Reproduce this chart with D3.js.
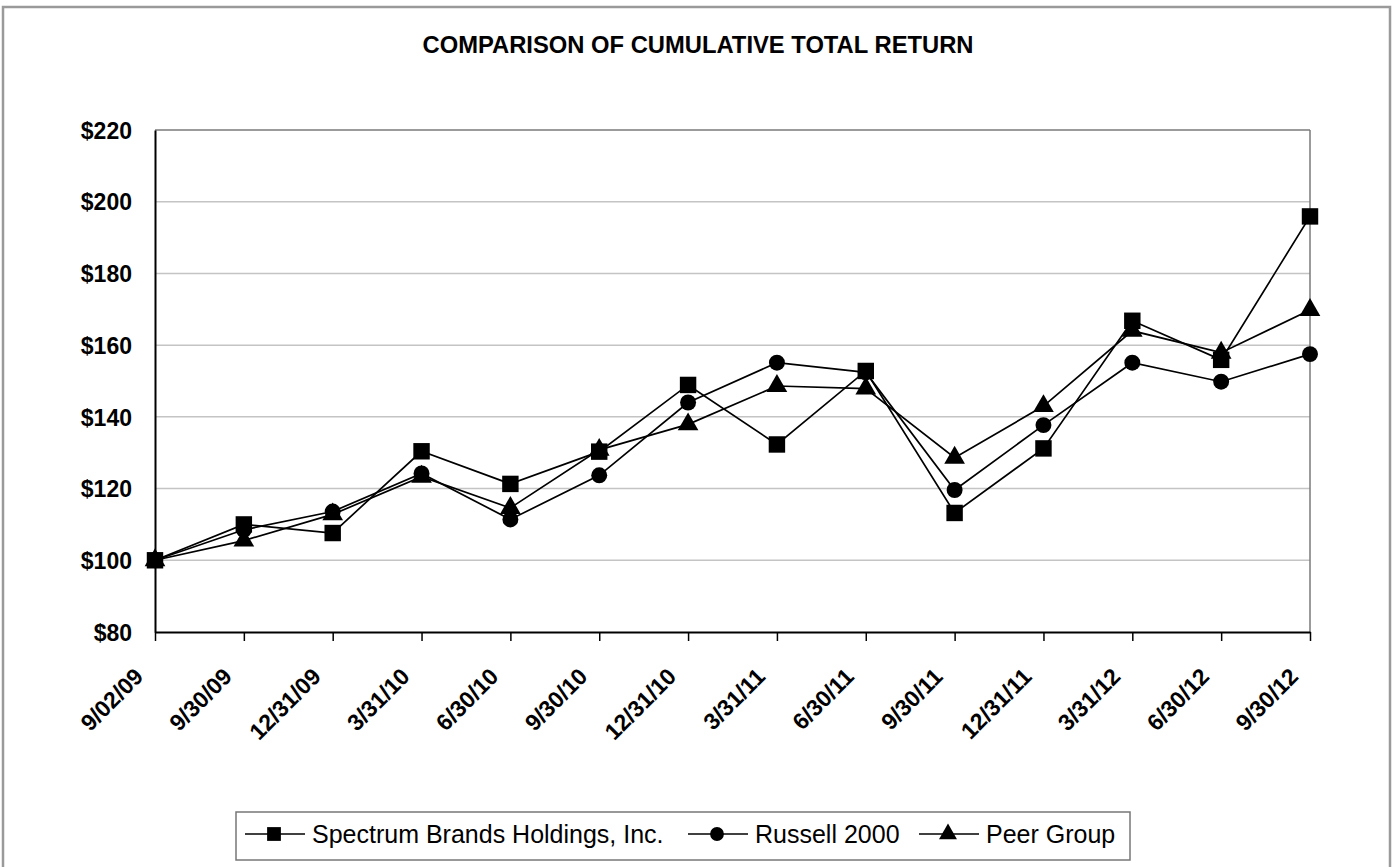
<!DOCTYPE html>
<html>
<head>
<meta charset="utf-8">
<script src="https://cdn.jsdelivr.net/npm/d3@7"></script>
<style>
  html, body { margin: 0; padding: 0; background: #fff; }
  svg { display: block; }
  text { font-family: Arial, "Liberation Sans", Helvetica, sans-serif; }
</style>
</head>
<body>
<svg id="chart" width="1394" height="867"></svg>
<script>
const title = "COMPARISON OF CUMULATIVE TOTAL RETURN";
const dates = ["9/02/09","9/30/09","12/31/09","3/31/10","6/30/10","9/30/10","12/31/10","3/31/11","6/30/11","9/30/11","12/31/11","3/31/12","6/30/12","9/30/12"];
const spectrum = [100, 110, 107.6, 130.4, 121.3, 130.3, 148.9, 132.3, 152.8, 113.2, 131.2, 166.8, 155.9, 195.9];
const russell  = [100, 108.5, 113.6, 124.2, 111.4, 123.7, 144.0, 155.1, 152.4, 119.6, 137.7, 155.1, 149.8, 157.5];
const peer     = [100, 105.5, 112.8, 123.3, 114.6, 130.8, 137.9, 148.6, 147.9, 128.6, 143.0, 164.0, 157.9, 169.8];
const yTicks = [80, 100, 120, 140, 160, 180, 200, 220];
const seriesNames = ["Spectrum Brands Holdings, Inc.", "Russell 2000", "Peer Group"];
const seriesValues = [spectrum, russell, peer];
const seriesSymbols = [d3.symbolSquare, d3.symbolCircle, d3.symbolTriangle];

const svg = d3.select("#chart");
const W = 1394, H = 867;

// outer frame
svg.append("rect").attr("x", 3).attr("y", 7).attr("width", W - 7).attr("height", H + 10)
  .attr("fill", "#fff").attr("stroke", "#9a9a9a").attr("stroke-width", 2.5);

svg.append("text").attr("x", 698).attr("y", 53).attr("text-anchor", "middle")
  .attr("font-size", 23).attr("font-weight", "bold").attr("textLength", 551)
  .attr("lengthAdjust", "spacingAndGlyphs").text(title);

const pLeft = 155, pRight = 1310, pTop = 130, pBottom = 632;
const x = d3.scalePoint().domain(dates).range([pLeft, pRight]).padding(0);
const y = d3.scaleLinear().domain([80, 220]).range([pBottom, pTop]);

// gridlines
svg.append("g").selectAll("line").data(yTicks.filter(t => t > 80 && t < 220)).join("line")
  .attr("x1", pLeft).attr("x2", pRight).attr("y1", d => y(d)).attr("y2", d => y(d))
  .attr("stroke", "#c4c4c4").attr("stroke-width", 1.5);

// plot frame top/right
svg.append("line").attr("x1", pLeft).attr("x2", pRight).attr("y1", pTop).attr("y2", pTop)
  .attr("stroke", "#7a7a7a").attr("stroke-width", 1.5);
svg.append("line").attr("x1", pRight).attr("x2", pRight).attr("y1", pTop).attr("y2", pBottom)
  .attr("stroke", "#7a7a7a").attr("stroke-width", 1.5);

// y axis
const yAxis = svg.append("g").attr("transform", `translate(${pLeft},0)`)
  .call(d3.axisLeft(y).tickValues(yTicks).tickSize(0).tickPadding(23).tickFormat(d => "$" + d));
yAxis.select(".domain").attr("stroke", "#000").attr("stroke-width", 2);
yAxis.selectAll("text").attr("font-size", 23).attr("font-weight", "bold").attr("fill", "#000")
  .attr("font-family", "Arial, 'Liberation Sans', sans-serif").attr("dy", "0.36em");

// x axis
const xAxis = svg.append("g").attr("transform", `translate(0,${pBottom})`)
  .call(d3.axisBottom(x).tickSize(9).tickSizeOuter(0));
xAxis.select(".domain").attr("stroke", "#000").attr("stroke-width", 2);
xAxis.selectAll(".tick line").attr("stroke", "#000").attr("stroke-width", 1.5);
xAxis.selectAll("text").attr("font-size", 23).attr("font-weight", "bold").attr("fill", "#000")
  .attr("font-family", "Arial, 'Liberation Sans', sans-serif")
  .attr("text-anchor", "end").attr("dy", 0).attr("y", 0)
  .attr("transform", "translate(-11,46) rotate(-45)");

// series lines and markers
const line = d3.line().x((d, i) => x(dates[i])).y(d => y(d));
const sizes = [270, 200, 185];
seriesValues.forEach((vals, si) => {
  svg.append("path").datum(vals).attr("d", line).attr("fill", "none")
    .attr("stroke", "#000").attr("stroke-width", 1.7);
});
seriesValues.forEach((vals, si) => {
  svg.append("g").selectAll("path").data(vals).join("path")
    .attr("transform", (d, i) => `translate(${x(dates[i])},${y(d)})`)
    .attr("d", d3.symbol().type(seriesSymbols[si]).size(sizes[si]))
    .attr("fill", "#000");
});

// legend
const lg = svg.append("g");
lg.append("rect").attr("x", 236).attr("y", 812).attr("width", 894).attr("height", 48)
  .attr("fill", "#fff").attr("stroke", "#777").attr("stroke-width", 1.5);
const legendX = [245, 688, 919];
const legendSizes = [190, 150, 140];
seriesNames.forEach((name, i) => {
  const g = lg.append("g").attr("transform", `translate(${legendX[i]},834)`);
  g.append("line").attr("x1", 0).attr("x2", 60).attr("y1", 0).attr("y2", 0)
    .attr("stroke", "#000").attr("stroke-width", 1.7);
  g.append("path").attr("transform", "translate(29,0)")
    .attr("d", d3.symbol().type(seriesSymbols[i]).size(legendSizes[i])).attr("fill", "#000");
  g.append("text").attr("x", 67).attr("y", 9).attr("font-size", 25).attr("fill", "#000")
    .text(name);
});
</script>
</body>
</html>
